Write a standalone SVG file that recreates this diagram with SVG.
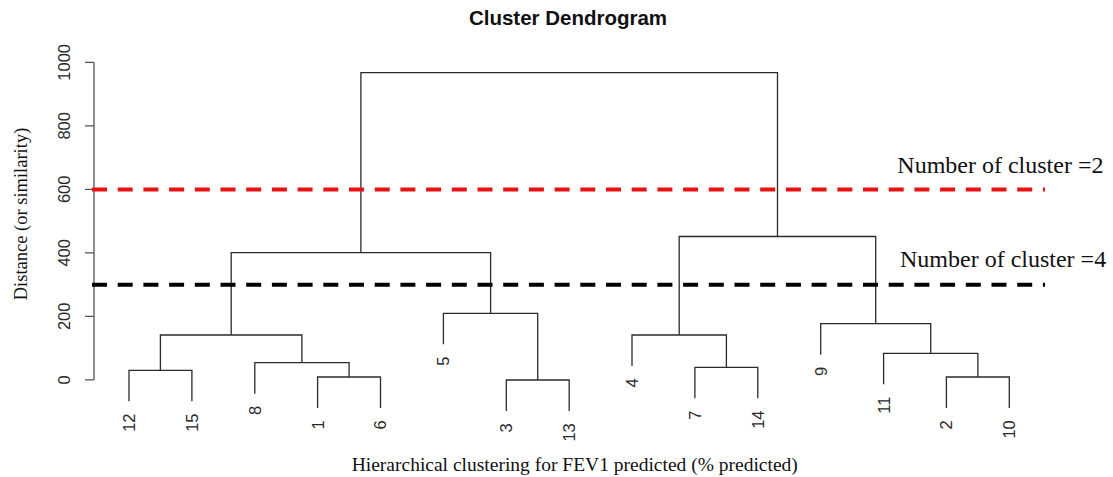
<svg xmlns="http://www.w3.org/2000/svg" width="1113" height="477" viewBox="0 0 1113 477">
  <style>
    .bg { fill: #ffffff; }
    .title { font-family: "Liberation Sans", Arial, sans-serif; font-weight: bold; font-size: 20.5px; fill: #111; }
    .tick { font-family: "Liberation Sans", Arial, sans-serif; font-size: 16.5px; fill: #2a2a2a; }
    .leaf { font-family: "Liberation Sans", Arial, sans-serif; font-size: 16.5px; fill: #2a2a2a; }
    .serif { font-family: "Liberation Serif", "Times New Roman", serif; fill: #111; }
    .link { fill: none; stroke: #2b2b2b; stroke-width: 1.3; }
    .axis { fill: none; stroke: #555; stroke-width: 1.3; }
    .cut { fill: none; stroke-width: 4; stroke-dasharray: 15 10.7; }
  </style>
  <rect class="bg" x="0" y="0" width="1113" height="477"/>

  <!-- title -->
  <text class="title" x="568" y="25" text-anchor="middle">Cluster Dendrogram</text>

  <!-- y axis -->
  <g id="y-axis">
    <path class="axis" d="M94 62.3V379.8M85 62.3H94M85 125.8H94M85 189.3H94M85 252.8H94M85 316.3H94M85 379.8H94"/>
    <text class="tick" transform="translate(64,62.3) rotate(-90)" text-anchor="middle" dy="0.36em">1000</text>
    <text class="tick" transform="translate(64,125.8) rotate(-90)" text-anchor="middle" dy="0.36em">800</text>
    <text class="tick" transform="translate(64,189.3) rotate(-90)" text-anchor="middle" dy="0.36em">600</text>
    <text class="tick" transform="translate(64,252.8) rotate(-90)" text-anchor="middle" dy="0.36em">400</text>
    <text class="tick" transform="translate(64,316.3) rotate(-90)" text-anchor="middle" dy="0.36em">200</text>
    <text class="tick" transform="translate(64,379.8) rotate(-90)" text-anchor="middle" dy="0.36em">0</text>
    <text class="serif" font-size="18.5" transform="translate(27,214) rotate(-90)" text-anchor="middle">Distance (or similarity)</text>
  </g>

  <!-- dendrogram links -->
  <g id="links">
    <path class="link" d="M129 401.3V370.3H191.9V401.3"/>
    <path class="link" d="M317.6 408V377H380.5V408"/>
    <path class="link" d="M254.8 393.7V362.7H349.1V377"/>
    <path class="link" d="M160.4 370.3V335H301.9V362.7"/>
    <path class="link" d="M506.3 411V380H569.2V411"/>
    <path class="link" d="M443.4 344.3V313.3H537.7V380"/>
    <path class="link" d="M231.2 335V252.7H490.6V313.3"/>
    <path class="link" d="M694.9 398.3V367.3H757.8V398.3"/>
    <path class="link" d="M632 366V335H726.4V367.3"/>
    <path class="link" d="M946.4 408V377H1009.3V408"/>
    <path class="link" d="M883.6 384.3V353.3H977.9V377"/>
    <path class="link" d="M820.7 354.7V323.7H930.7V353.3"/>
    <path class="link" d="M679.2 335V236.5H875.7V323.7"/>
    <path class="link" d="M360.9 252.7V72.7H777.5V236.5"/>
  </g>

  <!-- leaves -->
  <g id="leaf-12"><text class="leaf" transform="translate(129,413.5) rotate(-90)" text-anchor="end" dy="0.36em">12</text></g>
  <g id="leaf-15"><text class="leaf" transform="translate(191.9,413.5) rotate(-90)" text-anchor="end" dy="0.36em">15</text></g>
  <g id="leaf-8"><text class="leaf" transform="translate(254.8,405.9) rotate(-90)" text-anchor="end" dy="0.36em">8</text></g>
  <g id="leaf-1"><text class="leaf" transform="translate(317.6,420.2) rotate(-90)" text-anchor="end" dy="0.36em">1</text></g>
  <g id="leaf-6"><text class="leaf" transform="translate(380.5,420.2) rotate(-90)" text-anchor="end" dy="0.36em">6</text></g>
  <g id="leaf-5"><text class="leaf" transform="translate(443.4,356.5) rotate(-90)" text-anchor="end" dy="0.36em">5</text></g>
  <g id="leaf-3"><text class="leaf" transform="translate(506.3,423.2) rotate(-90)" text-anchor="end" dy="0.36em">3</text></g>
  <g id="leaf-13"><text class="leaf" transform="translate(569.2,423.2) rotate(-90)" text-anchor="end" dy="0.36em">13</text></g>
  <g id="leaf-4"><text class="leaf" transform="translate(632,378.2) rotate(-90)" text-anchor="end" dy="0.36em">4</text></g>
  <g id="leaf-7"><text class="leaf" transform="translate(694.9,410.5) rotate(-90)" text-anchor="end" dy="0.36em">7</text></g>
  <g id="leaf-14"><text class="leaf" transform="translate(757.8,410.5) rotate(-90)" text-anchor="end" dy="0.36em">14</text></g>
  <g id="leaf-9"><text class="leaf" transform="translate(820.7,366.9) rotate(-90)" text-anchor="end" dy="0.36em">9</text></g>
  <g id="leaf-11"><text class="leaf" transform="translate(883.6,396.5) rotate(-90)" text-anchor="end" dy="0.36em">11</text></g>
  <g id="leaf-2"><text class="leaf" transform="translate(946.4,420.2) rotate(-90)" text-anchor="end" dy="0.36em">2</text></g>
  <g id="leaf-10"><text class="leaf" transform="translate(1009.3,420.2) rotate(-90)" text-anchor="end" dy="0.36em">10</text></g>

  <!-- cut lines -->
  <g id="cut-2">
    <path class="cut" stroke="#e81212" d="M92 189.5H1045"/>
    <text class="serif" font-size="24" x="897.3" y="173.3">Number of cluster =2</text>
  </g>
  <g id="cut-4">
    <path class="cut" stroke="#000" d="M92 284.7H1045"/>
    <text class="serif" font-size="24" x="900" y="266.7">Number of cluster =4</text>
  </g>

  <!-- x axis title -->
  <text class="serif" font-size="19.5" x="351.7" y="471">Hierarchical clustering for FEV1 predicted (% predicted)</text>
</svg>
